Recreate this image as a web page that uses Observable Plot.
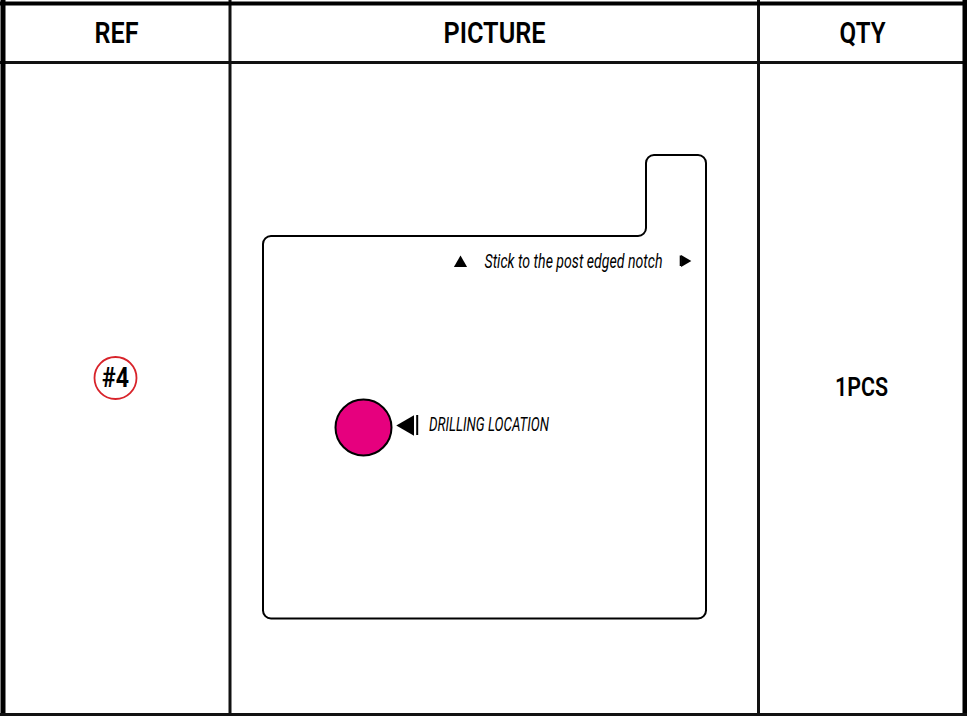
<!DOCTYPE html>
<html>
<head>
<meta charset="utf-8">
<script src="https://cdn.jsdelivr.net/npm/d3@7"></script>
<script src="https://cdn.jsdelivr.net/npm/@observablehq/plot@0.6"></script>
<style>
html,body{margin:0;padding:0;background:#fff}
svg{display:block}
</style>
</head>
<body>
<div id="chart"></div>
<script>
const headers = ["REF", "PICTURE", "QTY"];
const headerX = [116, 494, 862];
const headerY = [33, 33, 33];
const columnRules = [229.5, 758];
const rowRules = [62];
const noteText = ["Stick to the post edged notch", "DRILLING LOCATION"];
const noteX = [484, 428.5];
const noteY = [261, 424];
const cutoutX = [262.5, 645.5, 645.5, 705.5, 705.5, 262.5];
const cutoutY = [235.5, 235.5, 154.5, 154.5, 618, 618];
const holeX = [363];
const holeY = [427];
const refLabel = ["#4"];
const refX = [115];
const refY = [377.5];
const qtyLabel = ["1PCS"];
const qtyX = [861];
const qtyY = [387.5];
const textWidths = new Map([
  ["REF", 44], ["PICTURE", 102], ["QTY", 46], ["1PCS", 53], ["#4", 27],
  ["Stick to the post edged notch", 178], ["DRILLING LOCATION", 120]
]);

const roundedCurve = (r) => (ctx) => {
  let pts = [];
  return {
    areaStart() {}, areaEnd() {},
    lineStart() { pts = []; },
    point(x, y) { pts.push([+x, +y]); },
    lineEnd() {
      const n = pts.length;
      const mid = [(pts[0][0] + pts[1][0]) / 2, (pts[0][1] + pts[1][1]) / 2];
      ctx.moveTo(mid[0], mid[1]);
      for (let i = 1; i <= n; i++) {
        const a = pts[i % n], b = pts[(i + 1) % n];
        ctx.arcTo(a[0], a[1], b[0], b[1], r);
      }
      ctx.lineTo(mid[0], mid[1]);
      ctx.closePath();
    }
  };
};

const face = "Roboto,sans-serif";

const plot = Plot.plot({
  width: 967, height: 716,
  margin: 0,
  style: {background: "#fff"},
  x: {domain: [0, 967], range: [0, 967], axis: null},
  y: {domain: [0, 716], range: [0, 716], axis: null},
  marks: [
    Plot.ruleX(columnRules, {x: d => d, y1: 0, y2: 716, stroke: "#111", strokeWidth: 3}),
    Plot.ruleY(rowRules, {y: d => d, x1: 0, x2: 967, stroke: "#111", strokeWidth: 3}),
    Plot.ruleX([2.5], {x: d => d, y1: 0, y2: 716, stroke: "#000", strokeWidth: 5}),
    Plot.ruleX([964.5], {x: d => d, y1: 0, y2: 716, stroke: "#000", strokeWidth: 5}),
    Plot.ruleY([3], {y: d => d, x1: 0, x2: 967, stroke: "#000", strokeWidth: 4}),
    Plot.ruleY([714], {y: d => d, x1: 0, x2: 967, stroke: "#111", strokeWidth: 3}),
    Plot.text(headers, {
      x: (d, i) => headerX[i], y: (d, i) => headerY[i], text: d => d,
      fontFamily: face, fontWeight: 600, fontSize: 30, fill: "#000"
    }),
    Plot.line(cutoutX.map((x, i) => ({x, y: cutoutY[i]})), {
      x: "x", y: "y", curve: roundedCurve(8), stroke: "#000", strokeWidth: 2, fill: "none"
    }),
    Plot.dot(holeX.map((x, i) => ({x, y: holeY[i]})), {
      x: "x", y: "y", r: 28, fill: "#e6007e", stroke: "#000", strokeWidth: 2
    }),
    Plot.dot([{x: 460, y: 262.6}], {x: "x", y: "y", symbol: "triangle", r: 4.9, fill: "#000", stroke: "none"}),
    Plot.dot([{x: 684, y: 260.5}], {x: "x", y: "y", symbol: "triangle", r: 4.4, rotate: 90, fill: "#000", stroke: "none"}),
    Plot.ruleX([680], {x: d => d, y1: 255.5, y2: 266, stroke: "#000", strokeWidth: 1.6}),
    Plot.dot([{x: 407.6, y: 425}], {x: "x", y: "y", symbol: "triangle", r: 7.6, rotate: -90, fill: "#000", stroke: "none"}),
    Plot.ruleX([416.7], {x: d => d, y1: 415, y2: 435, stroke: "#000", strokeWidth: 2}),
    Plot.text(noteText, {
      x: (d, i) => noteX[i], y: (d, i) => noteY[i], text: d => d, textAnchor: "start",
      fontFamily: face, fontStyle: "italic", fontSize: 20, fill: "#000"
    }),
    Plot.dot(refX.map((x, i) => ({x, y: refY[i]})), {
      x: "x", y: "y", r: 21, fill: "none", stroke: "#d8232a", strokeWidth: 1.8
    }),
    Plot.text(refLabel, {
      x: (d, i) => refX[i], y: (d, i) => refY[i], text: d => d,
      fontFamily: face, fontWeight: 700, fontSize: 27, fill: "#000"
    }),
    Plot.text(qtyLabel, {
      x: (d, i) => qtyX[i], y: (d, i) => qtyY[i], text: d => d,
      fontFamily: face, fontWeight: 600, fontSize: 26, fill: "#000"
    })
  ]
});
// the reference face is condensed: fit each label to its read width
d3.select(plot).selectAll("text").each(function () {
  const w = textWidths.get(this.textContent);
  if (w) d3.select(this).attr("textLength", w).attr("lengthAdjust", "spacingAndGlyphs");
});
document.getElementById("chart").append(plot);
</script>
</body>
</html>
